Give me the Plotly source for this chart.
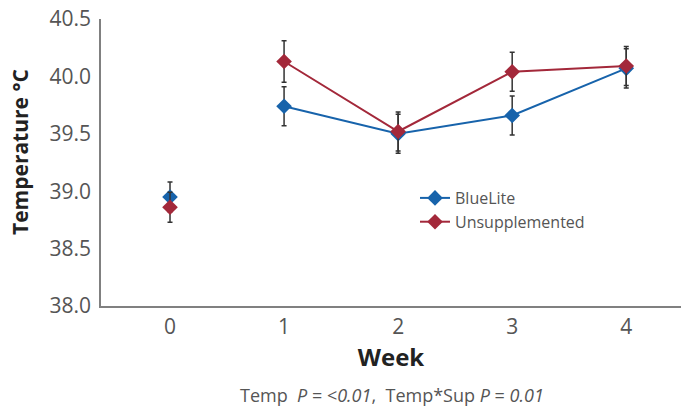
import plotly.graph_objects as go

weeks = [0, 1, 2, 3, 4]
bluelite = [38.95, 39.74, 39.50, 39.66, 40.07]
bluelite_err = [0.13, 0.17, 0.17, 0.17, 0.17]
unsupp = [38.86, 40.13, 39.52, 40.04, 40.09]
unsupp_err = [0.13, 0.18, 0.17, 0.17, 0.17]
y_ticks = [38.0, 38.5, 39.0, 39.5, 40.0, 40.5]

BLUE = "#1763ab"
RED = "#a3283a"
FONT = "Open Sans, Noto Sans, sans-serif"

fig = go.Figure()

def add_series(name, vals, errs, color):
    # week 0 shown unconnected
    fig.add_trace(go.Scatter(
        x=weeks[:1], y=vals[:1], mode="markers", name=name, showlegend=False,
        marker=dict(symbol="diamond", size=12, color=color),
        error_y=dict(type="data", array=errs[:1], color="#333333", thickness=1.5, width=2.5),
    ))
    fig.add_trace(go.Scatter(
        x=weeks[1:], y=vals[1:], mode="lines+markers", name=name,
        line=dict(color=color, width=2),
        marker=dict(symbol="diamond", size=12, color=color),
        error_y=dict(type="data", array=errs[1:], color="#333333", thickness=1.5, width=2.5),
    ))

add_series("BlueLite", bluelite, bluelite_err, BLUE)
add_series("Unsupplemented", unsupp, unsupp_err, RED)

fig.update_layout(
    width=681, height=411,
    margin=dict(l=101, r=0, t=19, b=105),
    plot_bgcolor="white", paper_bgcolor="white",
    font=dict(family=FONT, color="#555555"),
    legend=dict(x=(415 - 101) / 580, y=(306 - 210) / 287, xanchor="left", yanchor="middle",
                font=dict(size=16, color="#555555"), bgcolor="rgba(0,0,0,0)",
                tracegroupgap=0),
    annotations=[
        dict(
            text="Temp  <i>P</i> = &lt;<i>0.01</i>,  Temp*Sup <i>P</i> = <i>0.01</i>",
            x=(392 - 101) / 580, xref="paper", y=-(395 - 306) / 287, yref="paper",
            xanchor="center", yanchor="middle", showarrow=False,
            font=dict(size=18, color="#555555"),
        ),
        dict(
            text="<b>Temperature °C</b>", textangle=-90,
            x=(20 - 101) / 580, xref="paper", y=(306 - 152) / 287, yref="paper",
            xanchor="center", yanchor="middle", showarrow=False,
            font=dict(size=21, color="#222222"),
        ),
    ],
)

fig.update_xaxes(
    range=[-0.605, 4.48], tickvals=weeks, ticktext=[str(w) for w in weeks],
    showgrid=False, zeroline=False, showline=True, linecolor="#808080", linewidth=1.5,
    ticks="", tickfont=dict(size=21, color="#555555"), ticklabelstandoff=1,
    title=dict(text="<b>Week</b>", font=dict(size=24, color="#222222"), standoff=5),
)
fig.update_yaxes(
    range=[38.0, 40.5], tickvals=y_ticks, ticktext=[f"{v:.1f}" for v in y_ticks],
    showgrid=False, zeroline=False, showline=True, linecolor="#808080", linewidth=1.5,
    ticks="", tickfont=dict(size=21, color="#555555"), ticklabelstandoff=4,
)

fig.write_html("out.html", config={"displayModeBar": False},
               post_script="document.body.style.margin='0';")
